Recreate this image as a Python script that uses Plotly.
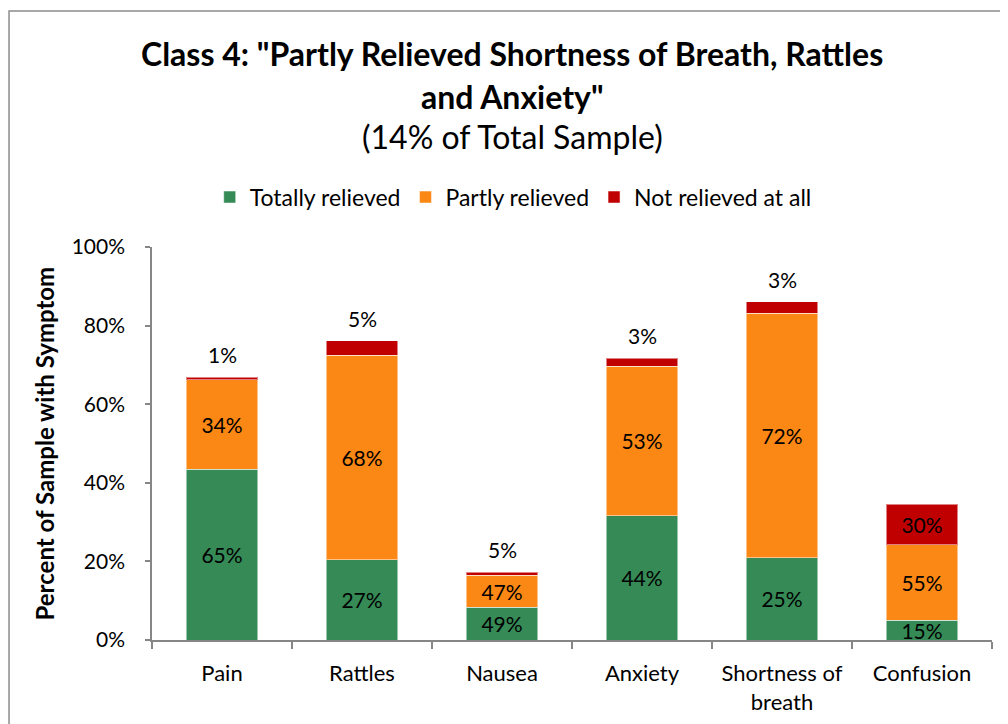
import plotly.graph_objects as go

categories = ["Pain", "Rattles", "Nausea", "Anxiety", "Shortness of<br>breath", "Confusion"]

# segment heights (percent of total sample with symptom)
totally_relieved = [43.4, 20.4, 8.3, 31.6, 20.9, 5.0]
partly_relieved = [22.8, 52.1, 8.2, 38.1, 62.3, 19.2]
not_relieved = [0.6, 3.6, 0.8, 2.0, 2.9, 10.3]

# data labels (share within each symptom)
totally_labels = ["65%", "27%", "49%", "44%", "25%", "15%"]
partly_labels = ["34%", "68%", "47%", "53%", "72%", "55%"]
not_labels = ["1%", "5%", "5%", "3%", "3%", "30%"]

y_ticks = [0, 20, 40, 60, 80, 100]
y_tick_text = ["0%", "20%", "40%", "60%", "80%", "100%"]

FONT = "Lato, 'Open Sans', sans-serif"
GREEN = "#358A56"
ORANGE = "#FB8714"
RED = "#C00000"
AXIS = "#868686"
LBL = 21

fig = go.Figure()
fig.add_trace(go.Bar(
    x=categories, y=totally_relieved, name="Totally relieved",
    marker=dict(color=GREEN, line=dict(color="rgba(255,255,255,0.5)", width=1)),
    text=totally_labels, textposition="inside", insidetextanchor="middle",
    constraintext="none", textfont=dict(family=FONT, size=LBL, color="black"),
    hoverinfo="skip",
))
fig.add_trace(go.Bar(
    x=categories, y=partly_relieved, name="Partly relieved",
    marker=dict(color=ORANGE, line=dict(color="rgba(255,255,255,0.5)", width=1)),
    text=partly_labels, textposition="inside", insidetextanchor="middle",
    constraintext="none", textfont=dict(family=FONT, size=LBL, color="black"),
    hoverinfo="skip",
))
red_pos = ["none"] * 5 + ["inside"]
fig.add_trace(go.Bar(
    x=categories, y=not_relieved, name="Not relieved at all",
    marker=dict(color=RED, line=dict(color="rgba(255,255,255,0.5)", width=1)),
    text=not_labels, textposition=red_pos, insidetextanchor="middle",
    constraintext="none", textfont=dict(family=FONT, size=LBL, color="black"),
    hoverinfo="skip",
))

# labels for small "not relieved" segments, placed above the bar tops
for i, cat in enumerate(categories):
    if red_pos[i] == "none":
        top = totally_relieved[i] + partly_relieved[i] + not_relieved[i]
        fig.add_annotation(x=cat, y=top, xref="x", yref="y", text=not_labels[i],
                           showarrow=False, yanchor="bottom", yshift=8,
                           font=dict(family=FONT, size=LBL, color="black"))

# titles
TS = 32
fig.add_annotation(x=0.4286, y=1.4936, xref="paper", yref="paper",
                   text="<b>Class 4: \"Partly Relieved Shortness of Breath, Rattles</b>",
                   showarrow=False, xanchor="center", yanchor="middle",
                   font=dict(family=FONT, size=TS, color="black"))
fig.add_annotation(x=0.4286, y=1.3817, xref="paper", yref="paper",
                   text="<b>and Anxiety\"</b>",
                   showarrow=False, xanchor="center", yanchor="middle",
                   font=dict(family=FONT, size=TS, color="black"))
fig.add_annotation(x=0.4286, y=1.28, xref="paper", yref="paper",
                   text="(14% of Total Sample)",
                   showarrow=False, xanchor="center", yanchor="middle",
                   font=dict(family=FONT, size=TS, color="black"))
# y axis title
fig.add_annotation(x=-0.1274, y=0.5, xref="paper", yref="paper",
                   text="<b>Percent of Sample with Symptom</b>", textangle=-90,
                   showarrow=False, xanchor="center", yanchor="middle",
                   font=dict(family=FONT, size=24, color="black"))

# chart border
fig.add_shape(type="rect", xref="paper", yref="paper",
              x0=-0.1702, x1=1.0143, y0=-0.26, y1=1.6005,
              line=dict(color="#8C8C8C", width=1.5), fillcolor="rgba(0,0,0,0)", layer="below")

fig.update_layout(
    width=1008, height=724,
    margin=dict(l=144, r=24, t=239, b=92),
    barmode="stack", bargap=0.49,
    paper_bgcolor="white", plot_bgcolor="white",
    font=dict(family=FONT, size=LBL, color="black"),
    showlegend=True,
    legend=dict(orientation="h", x=0.43, xanchor="center", y=1.127, yanchor="middle",
                xref="paper", yref="paper", font=dict(family=FONT, size=23, color="black"),
                traceorder="normal", itemclick=False, itemdoubleclick=False),
    xaxis=dict(showline=True, linecolor=AXIS, linewidth=1.5, ticks="outside", tickson="boundaries",
               ticklen=7, tickcolor=AXIS, tickwidth=1.5, showgrid=False, zeroline=False,
               tickfont=dict(family=FONT, size=22, color="black"), ticklabelstandoff=13),
    yaxis=dict(range=[0, 100], tickvals=y_ticks, ticktext=y_tick_text, showline=True,
               linecolor=AXIS, linewidth=1.5, ticks="outside", ticklen=5, tickcolor=AXIS,
               tickwidth=1.5, showgrid=False, zeroline=False,
               tickfont=dict(family=FONT, size=LBL, color="black"), ticklabelstandoff=16),
)

fig.write_html("out.html")
